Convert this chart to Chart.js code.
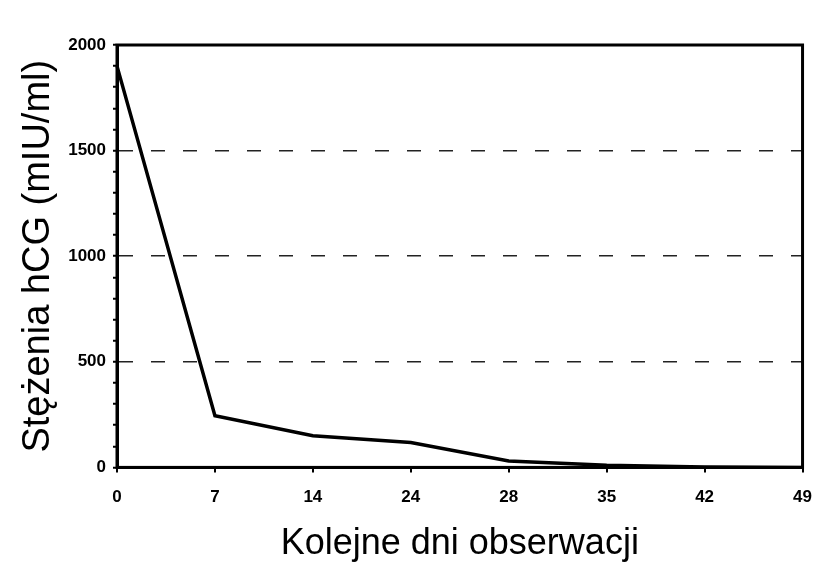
<!DOCTYPE html>
<html><head><meta charset="utf-8">
<script src="https://cdn.jsdelivr.net/npm/chart.js@4"></script>
<style>html,body{margin:0;padding:0;background:#fff}canvas{display:block}</style>
</head><body>
<canvas id="c" width="827" height="583"></canvas>
<script>
const days = ['0','7','14','24','28','35','42','49'];
const hcg = [1900, 245, 150, 118, 30, 10, 2, 0];
const yTitle = 'Stężenia hCG (mIU/ml)';
const xTitle = 'Kolejne dni obserwacji';
const yMax = 2000;
const yLabelStep = 500;
const yMinorStep = 100;

const frame = {
  id: 'frame',
  afterDraw(chart) {
    const {ctx, chartArea: a} = chart;
    ctx.save();
    ctx.strokeStyle = '#000';
    ctx.lineWidth = 3;
    ctx.strokeRect(a.left, a.top, a.right - a.left, a.bottom - a.top);
    ctx.restore();
  }
};

const tickFont = { family: "'Liberation Sans Narrow', 'Liberation Sans', Arial, sans-serif", weight: 'bold', size: 17 };

new Chart(document.getElementById('c'), {
  type: 'line',
  data: {
    labels: days,
    datasets: [{
      data: hcg,
      borderColor: '#000',
      borderWidth: 3.5,
      pointRadius: 0,
      tension: 0,
      fill: false
    }]
  },
  options: {
    responsive: false,
    animation: false,
    layout: { padding: { top: 45, right: 19, left: 4, bottom: 17 } },
    plugins: { legend: { display: false }, tooltip: { enabled: false } },
    scales: {
      x: {
        offset: false,
        grid: { display: true, drawOnChartArea: false, color: '#000', tickLength: 5, lineWidth: 2 },
        border: { display: true, color: '#000', width: 3 },
        ticks: { color: '#000', font: tickFont, padding: 15, maxRotation: 0, autoSkip: false },
        title: { display: true, text: xTitle, color: '#000', font: { family: 'Liberation Sans', size: 36 }, padding: { top: 0, bottom: 0 } }
      },
      y: {
        min: 0, max: yMax,
        afterBuildTicks(scale) {
          const t = [];
          for (let v = 0; v <= yMax; v += yMinorStep) t.push({ value: v });
          scale.ticks = t;
        },
        afterFit(scale) { scale.width = 113; },
        grid: {
          color: (ctx) => (ctx.tick && ctx.tick.value % yLabelStep === 0 && ctx.tick.value > 0 && ctx.tick.value < yMax) ? '#222' : 'rgba(0,0,0,0)',
          lineWidth: 1.5,
          tickColor: '#000',
          tickLength: 4,
          tickWidth: 2
        },
        border: { display: true, color: '#000', width: 3, dash: [14, 18] },
        ticks: {
          color: '#000',
          font: tickFont,
          padding: 7,
          autoSkip: false,
          callback: (v) => (v % yLabelStep === 0 ? String(v) : '')
        },
        title: { display: true, text: yTitle, color: '#000', font: { family: 'Liberation Sans', size: 38 }, padding: { top: 12, bottom: 0 } }
      }
    }
  },
  plugins: [frame]
});
</script>
</body></html>
